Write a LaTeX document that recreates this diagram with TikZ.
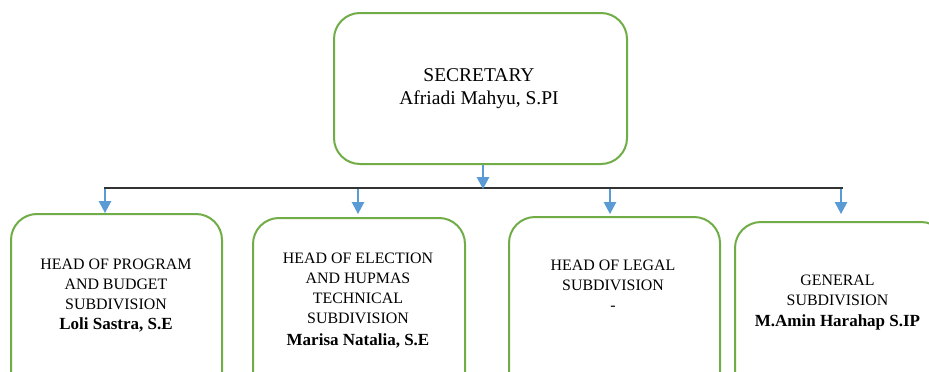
\documentclass[tikz,border=0pt]{standalone}
\usepackage{fontspec}
\setmainfont{Liberation Serif}
\usetikzlibrary{arrows.meta}
\definecolor{boxgreen}{HTML}{70AD47}
\definecolor{arrblue}{HTML}{5B9BD5}
\newcommand{\personname}[1]{{\fontsize{17}{20}\selectfont\bfseries #1}}
\begin{document}
\begin{tikzpicture}[x=1pt,y=-1pt,
  orgbox/.style={draw=boxgreen, line width=2pt, rounded corners=26pt, fill=white, anchor=north west, inner sep=0pt},
  lbl/.style={align=center, inner sep=0pt, anchor=north, font=\fontsize{15.9}{20}\selectfont},
  toplbl/.style={align=center, inner sep=0pt, anchor=north, font=\fontsize{19.5}{23}\selectfont},
  arr/.style={draw=arrblue, line width=1.3pt, -{Triangle[width=12.5pt,length=12pt]}},
  bus/.style={draw=black!80, line width=1.1pt}]
\useasboundingbox (0,0) rectangle (929,372);
\clip (0,0) rectangle (929,372);
% boxes
\node[orgbox, minimum width=293pt, minimum height=151pt] (sec) at (333,12) {};
\node[orgbox, minimum width=211pt, minimum height=190pt] (b1) at (10,213) {};
\node[orgbox, minimum width=212pt, minimum height=190pt] (b2) at (252,217) {};
\node[orgbox, minimum width=211pt, minimum height=190pt] (b3) at (508,216) {};
\node[orgbox, minimum width=212pt, minimum height=190pt] (b4) at (734,221) {};
% labels
\node[toplbl] (tsec) at (479,68) {SECRETARY\\Afriadi Mahyu, S.PI};
\node[lbl] (t1) at (116,259) {HEAD OF PROGRAM\\AND BUDGET\\SUBDIVISION\\\personname{Loli Sastra, S.E}};
\node[lbl] (t2) at (358,253) {HEAD OF ELECTION\\AND HUPMAS\\TECHNICAL\\SUBDIVISION\\[2pt]\personname{Marisa Natalia, S.E}};
\node[lbl] (t3) at (613,260) {HEAD OF LEGAL\\SUBDIVISION\\-};
\node[lbl] (t4) at (837.5,275) {GENERAL\\SUBDIVISION\\[1pt]\personname{M.Amin Harahap S.IP}};
% bus
\coordinate (busL) at (104,188);
\coordinate (busR) at (843,188);
\coordinate (busM) at (483,188);
\draw[bus] (busL) -- (busR);
\draw[arr] (sec.south -| busM) -- ([yshift=-1pt]busM);
\coordinate (s1) at (105,189); \coordinate (e1) at (105,213);
\coordinate (s2) at (358,189); \coordinate (e2) at (358,214);
\coordinate (s3) at (610,189); \coordinate (e3) at (610,214);
\coordinate (s4) at (841,189); \coordinate (e4) at (841,214);
\draw[arr] (s1) -- (e1);
\draw[arr] (s2) -- (e2);
\draw[arr] (s3) -- (e3);
\draw[arr] (s4) -- (e4);
\end{tikzpicture}
\end{document}
